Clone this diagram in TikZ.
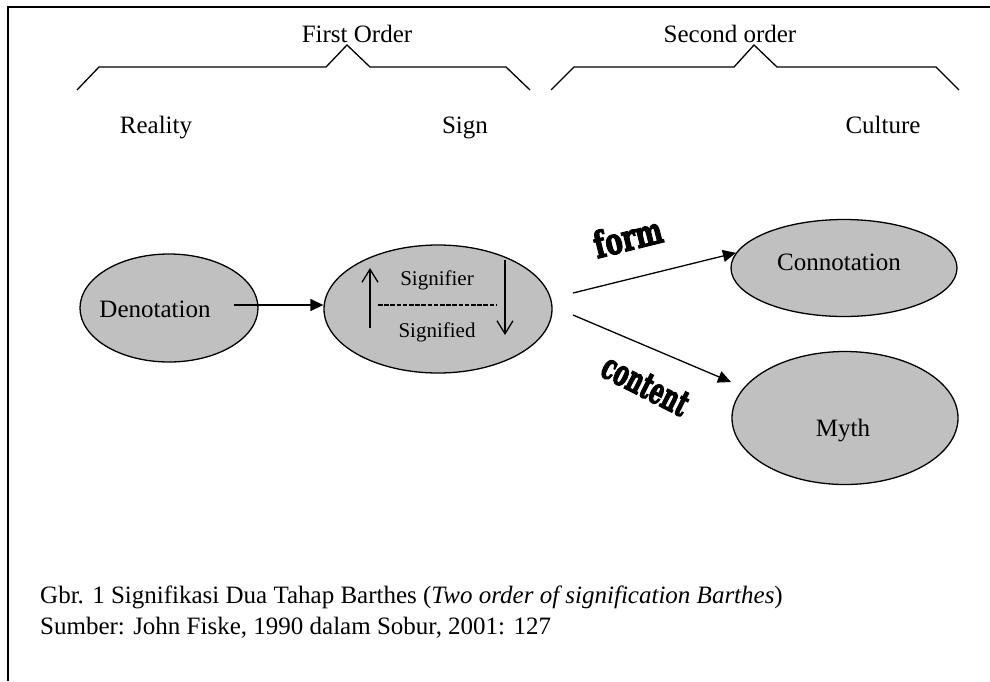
\documentclass[tikz,border=0pt]{standalone}
\usepackage{fontspec}
\usepackage{graphicx}
\setmainfont{Liberation Serif}
\newfontfamily\wafont{DejaVu Serif}
\usetikzlibrary{shapes.geometric,arrows.meta}
\definecolor{ellgray}{HTML}{C0C0C0}
\newcommand\heavytext[1]{\special{pdf:literal direct 2 Tr 1.4 w}#1\special{pdf:literal direct 0 Tr 1 w}}
\tikzset{
  ell/.style={ellipse,draw=black,line width=1.3pt,fill=ellgray,inner sep=0pt},
  txt/.style={inner sep=0pt,anchor=base,font=\fontsize{25}{30}\selectfont},
  smalltxt/.style={inner sep=0pt,anchor=base,font=\fontsize{21}{25}\selectfont},
  plainline/.style={line width=1.3pt},
  conn/.style={line width=1.3pt,-{Triangle[length=13pt,width=12pt]}},
  barb/.style={line width=1.3pt,-{Straight Barb[length=13pt,width=16pt]}},
  wordart/.style={inner sep=0pt,anchor=base,font=\wafont\bfseries\fontsize{36}{40}\selectfont},
}
\begin{document}
\begin{tikzpicture}[x=1pt,y=-1pt]
\useasboundingbox (0,0) rectangle (990,681);
% frame
\draw[plainline] (8,681) -- (8,7) -- (990,7);
% brackets
\draw[plainline] (77,90) -- (99,67) -- (326,67) -- (347,45) -- (370,67) -- (506,67) -- (530,90);
\draw[plainline] (551,90) -- (574,67) -- (734,67) -- (754,45) -- (777,67) -- (936,67) -- (959,90);
% headings
\node[txt] (first) at (357,42) {First Order};
\node[txt] (second) at (730,42) {Second order};
\node[txt] (reality) at (156,133) {Reality};
\node[txt] (sign) at (465,133) {Sign};
\node[txt] (culture) at (883,133) {Culture};
% ellipses
\node[ell,minimum width=178pt,minimum height=108pt] (den) at (169,308) {};
\node[ell,minimum width=228pt,minimum height=128pt] (sig) at (438,309) {};
\node[ell,minimum width=226pt,minimum height=97pt] (con) at (844,268) {};
\node[ell,minimum width=226pt,minimum height=133pt] (myth) at (845,418) {};
% ellipse texts
\node[txt] (dentext) at (155,317) {Denotation};
\node[txt] (context) at (839,270) {Connotation};
\node[txt] (mythtext) at (843,436) {Myth};
\node[smalltxt] (sfr) at (437,285) {Signifier};
\node[smalltxt] (sfd) at (437,337) {Signified};
\draw[line width=1.2pt,dash pattern=on 4.5pt off 1.7pt] (378,305) -- (497,305);
\coordinate (up0) at (370,328);
\coordinate (up1) at (370,268);
\coordinate (dn0) at (505,260);
\coordinate (dn1) at (505,335);
\draw[barb] (up0) -- (up1);
\draw[barb] (dn0) -- (dn1);
% connectors
\coordinate (d0) at (234,305);
\draw[conn] (d0) -- (d0 -| sig.west);
\coordinate (s1) at (573,293);
\coordinate (s2) at (573,315);
\coordinate (m1) at (731,382);
\draw[conn] (s1) -- (con.172);
\draw[conn] (s2) -- (m1);
% word art labels
\node[wordart,rotate=14] (form) at (631,250) {\scalebox{0.72}[1]{\heavytext{form}}};
\node[wordart,rotate=-27] (content) at (640,396) {\scalebox{0.6}[1]{\heavytext{content}}};
% caption
\node[txt,anchor=base west] (cap1) at (40,603) {Gbr. 1 Signifikasi Dua Tahap Barthes (\textit{Two order of signification Barthes})};
\node[txt,anchor=base west] (cap2) at (40,634) {Sumber: John Fiske, 1990 dalam Sobur, 2001: 127};
\end{tikzpicture}
\end{document}
